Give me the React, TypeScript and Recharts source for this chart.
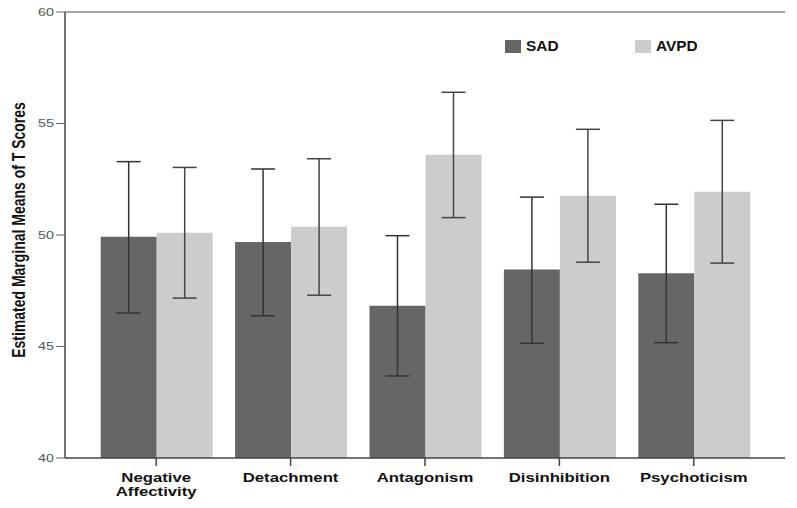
import React from "react";
import {
  ComposedChart,
  Bar,
  XAxis,
  YAxis,
  ErrorBar,
  ReferenceLine,
  Legend,
} from "recharts";

const categories = ["Negative Affectivity", "Detachment", "Antagonism", "Disinhibition", "Psychoticism"];
const sadMeans = [49.92, 49.69, 46.83, 48.45, 48.28];
const sadLower = [46.5, 46.38, 43.68, 45.14, 45.17];
const sadUpper = [53.29, 52.96, 49.97, 51.7, 51.38];
const avpdMeans = [50.1, 50.37, 53.6, 51.76, 51.94];
const avpdLower = [47.17, 47.3, 50.78, 48.78, 48.74];
const avpdUpper = [53.03, 53.42, 56.4, 54.74, 55.14];
const yTicks = [40, 45, 50, 55, 60];

const data = categories.map((c, i) => ({
  name: c,
  SAD: sadMeans[i],
  AVPD: avpdMeans[i],
  sadErr: [sadMeans[i] - sadLower[i], sadUpper[i] - sadMeans[i]],
  avpdErr: [avpdMeans[i] - avpdLower[i], avpdUpper[i] - avpdMeans[i]],
}));

const FONT = "'Liberation Sans', Arial, sans-serif";
const SX = 1.3;

const YTick = (props: any) => {
  const { x, y, payload } = props;
  return (
    <text
      x={x}
      y={y}
      dy={4}
      textAnchor="end"
      fontSize={11}
      fill="#555"
      fontFamily={FONT}
      transform={`translate(${x},0) scale(${SX},1) translate(${-x},0)`}
    >
      {payload.value}
    </text>
  );
};

const XTick = (props: any) => {
  const { x, y, payload } = props;
  const words: string[] = String(payload.value).split(" ");
  return (
    <text
      x={x}
      y={y}
      textAnchor="middle"
      fontSize={13.5}
      fontWeight="bold"
      fill="#111"
      fontFamily={FONT}
      transform={`translate(${x},0) scale(1.24,1) translate(${-x},0)`}
    >
      {words.map((w, i) => (
        <tspan key={i} x={x} dy={i === 0 ? 14 : 14}>
          {w}
        </tspan>
      ))}
    </text>
  );
};

const LegendContent = () => (
  <div style={{ position: "relative", width: 300, height: 0, fontFamily: FONT }}>
    <div style={{ position: "absolute", left: 0, top: 0, width: 16, height: 13, background: "#666666" }} />
    <div
      style={{
        position: "absolute",
        left: 21,
        top: -2,
        fontSize: 14,
        fontWeight: "bold",
        color: "#111",
        transform: "scale(1.1,1)",
        transformOrigin: "left center",
      }}
    >
      SAD
    </div>
    <div style={{ position: "absolute", left: 130, top: 0, width: 16, height: 13, background: "#cccccc" }} />
    <div
      style={{
        position: "absolute",
        left: 151,
        top: -2,
        fontSize: 14,
        fontWeight: "bold",
        color: "#111",
        transform: "scale(1.1,1)",
        transformOrigin: "left center",
      }}
    >
      AVPD
    </div>
  </div>
);

const YLabel = () => (
  <text
    transform={`translate(25,230) scale(1.3,1) rotate(-90)`}
    textAnchor="middle"
    fontSize={14}
    fontWeight="bold"
    fill="#111"
    fontFamily={FONT}
  >
    Estimated Marginal Means of T Scores
  </text>
);

export default function App() {
  return (
    <div style={{ position: "absolute", left: 0, top: 0, background: "#fff" }}>
      <ComposedChart
        width={797}
        height={508}
        data={data}
        margin={{ top: 12, right: 12, left: 0, bottom: 0 }}
        barCategoryGap="8.7%"
        barGap={0}
      >
        <XAxis
          dataKey="name"
          height={50}
          padding={{ left: 24, right: 24 }}
          axisLine={{ stroke: "#444", strokeWidth: 1.5 }}
          tickLine={{ stroke: "#444", strokeWidth: 1.5 }}
          tickSize={8}
          tick={<XTick />}
          interval={0}
        />
        <YAxis
          yAxisId="left"
          width={65}
          domain={[40, 60]}
          ticks={yTicks}
          allowDataOverflow
          axisLine={{ stroke: "#444", strokeWidth: 1.5 }}
          tickLine={{ stroke: "#666", strokeWidth: 1 }}
          tickSize={9}
          tickMargin={2}
          tick={<YTick />}
          label={<YLabel />}
        />
        <YAxis
          yAxisId="right"
          orientation="right"
          width={0}
          domain={[40, 60]}
          tick={false}
          tickLine={false}
          axisLine={{ stroke: "#888", strokeWidth: 1.5 }}
        />
        <ReferenceLine yAxisId="left" y={60} stroke="#888" strokeWidth={1.5} ifOverflow="visible" />
        <Legend
          verticalAlign="top"
          content={<LegendContent />}
          wrapperStyle={{ position: "absolute", left: 505, top: 40, width: 300, height: 0 }}
        />
        <Bar yAxisId="left" dataKey="SAD" fill="#666666" isAnimationActive={false}>
          <ErrorBar dataKey="sadErr" width={12} stroke="#333" strokeWidth={1.5} direction="y" />
        </Bar>
        <Bar yAxisId="left" dataKey="AVPD" fill="#cccccc" isAnimationActive={false}>
          <ErrorBar dataKey="avpdErr" width={12} stroke="#444" strokeWidth={1.5} direction="y" />
        </Bar>
      </ComposedChart>
    </div>
  );
}
